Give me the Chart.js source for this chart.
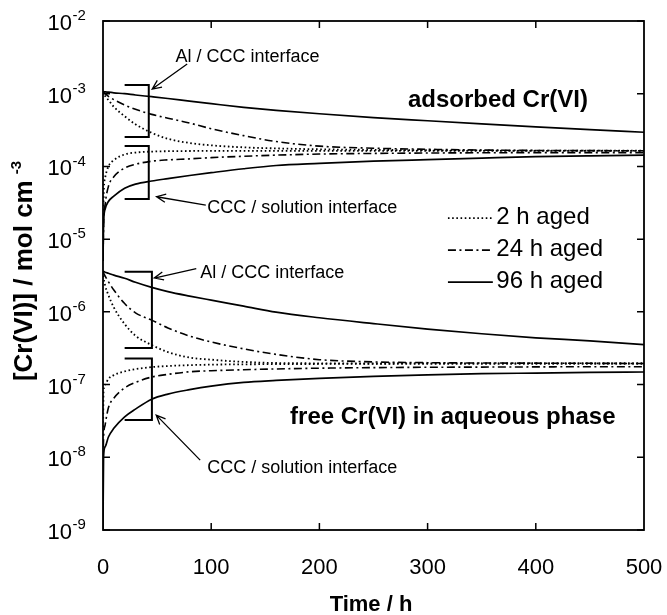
<!DOCTYPE html>
<html><head><meta charset="utf-8">
<script src="https://cdn.jsdelivr.net/npm/chart.js@4/dist/chart.umd.min.js"></script>
<style>html,body{margin:0;padding:0;background:#fff;}canvas{display:block;}</style>
</head><body>
<canvas id="c" width="667" height="615" style="width:667px;height:615px"></canvas>
<script>
// ---- data (time in h, concentration in mol cm^-3) ----
const times   = [0, 0.5, 2, 5, 10, 20, 30, 45, 60, 80, 100, 130, 160, 200, 250, 300, 350, 400, 450, 500];
// adsorbed Cr(VI), Al / CCC interface
const adsAl2  = [1.07e-3, 1.02e-3, 9.3e-4, 8.2e-4, 6.6e-4, 4.9e-4, 3.8e-4, 2.9e-4, 2.4e-4, 2.1e-4, 1.95e-4, 1.83e-4, 1.77e-4, 1.72e-4, 1.69e-4, 1.67e-4, 1.66e-4, 1.65e-4, 1.65e-4, 1.65e-4];
const adsAl24 = [1.07e-3, 1.05e-3, 1.0e-3, 9.2e-4, 8.3e-4, 7.0e-4, 6.1e-4, 5.2e-4, 4.6e-4, 3.95e-4, 3.3e-4, 2.65e-4, 2.2e-4, 1.9e-4, 1.78e-4, 1.72e-4, 1.68e-4, 1.66e-4, 1.65e-4, 1.64e-4];
const adsAl96 = [1.07e-3, 1.07e-3, 1.06e-3, 1.05e-3, 1.03e-3, 1.0e-3, 9.6e-4, 9.1e-4, 8.6e-4, 7.9e-4, 7.3e-4, 6.5e-4, 5.9e-4, 5.3e-4, 4.7e-4, 4.25e-4, 3.85e-4, 3.5e-4, 3.2e-4, 2.95e-4];
// adsorbed Cr(VI), CCC / solution interface
const adsCs2  = [5e-6, 3.5e-5, 7e-5, 1.0e-4, 1.22e-4, 1.46e-4, 1.55e-4, 1.6e-4, 1.62e-4, 1.63e-4, 1.64e-4, 1.64e-4, 1.64e-4, 1.64e-4, 1.64e-4, 1.64e-4, 1.64e-4, 1.64e-4, 1.64e-4, 1.64e-4];
const adsCs24 = [5e-6, 1.5e-5, 3.0e-5, 5.3e-5, 7.2e-5, 9.5e-5, 1.07e-4, 1.18e-4, 1.23e-4, 1.27e-4, 1.32e-4, 1.38e-4, 1.43e-4, 1.48e-4, 1.51e-4, 1.53e-4, 1.54e-4, 1.55e-4, 1.55e-4, 1.55e-4];
const adsCs96 = [5e-6, 1.6e-5, 2.6e-5, 3.3e-5, 3.9e-5, 5.0e-5, 5.7e-5, 6.3e-5, 6.8e-5, 7.5e-5, 8.2e-5, 9.3e-5, 1.03e-4, 1.1e-4, 1.18e-4, 1.24e-4, 1.3e-4, 1.36e-4, 1.4e-4, 1.43e-4];
// free Cr(VI) in aqueous phase, Al / CCC interface
const freeAl2  = [3.6e-6, 3.0e-6, 2.3e-6, 1.7e-6, 1.15e-6, 6.8e-7, 4.7e-7, 3.5e-7, 2.8e-7, 2.35e-7, 2.2e-7, 2.05e-7, 1.98e-7, 1.96e-7, 1.95e-7, 1.95e-7, 1.95e-7, 1.95e-7, 1.95e-7, 1.95e-7];
const freeAl24 = [3.6e-6, 3.45e-6, 3.1e-6, 2.6e-6, 2.0e-6, 1.3e-6, 9.7e-7, 7.7e-7, 6.0e-7, 4.65e-7, 3.85e-7, 3.1e-7, 2.6e-7, 2.2e-7, 2.05e-7, 2.0e-7, 1.98e-7, 1.97e-7, 1.96e-7, 1.95e-7];
const freeAl96 = [3.6e-6, 3.6e-6, 3.5e-6, 3.4e-6, 3.2e-6, 2.9e-6, 2.55e-6, 2.17e-6, 1.9e-6, 1.65e-6, 1.45e-6, 1.2e-6, 9.9e-7, 8.3e-7, 6.9e-7, 5.8e-7, 5.0e-7, 4.4e-7, 4.0e-7, 3.55e-7];
// free Cr(VI) in aqueous phase, CCC / solution interface
const freeCs2  = [2e-8, 8e-8, 1.0e-7, 1.2e-7, 1.35e-7, 1.52e-7, 1.63e-7, 1.74e-7, 1.8e-7, 1.85e-7, 1.88e-7, 1.9e-7, 1.91e-7, 1.92e-7, 1.93e-7, 1.94e-7, 1.94e-7, 1.95e-7, 1.95e-7, 1.95e-7];
const freeCs24 = [8e-9, 1.8e-8, 2.8e-8, 4.8e-8, 6.5e-8, 9.0e-8, 1.07e-7, 1.27e-7, 1.38e-7, 1.5e-7, 1.55e-7, 1.6e-7, 1.64e-7, 1.68e-7, 1.71e-7, 1.73e-7, 1.74e-7, 1.75e-7, 1.76e-7, 1.76e-7];
const freeCs96 = [1e-9, 1e-8, 1.4e-8, 1.9e-8, 2.5e-8, 3.6e-8, 4.6e-8, 6.3e-8, 7.4e-8, 8.5e-8, 9.5e-8, 1.07e-7, 1.14e-7, 1.22e-7, 1.3e-7, 1.36e-7, 1.41e-7, 1.44e-7, 1.47e-7, 1.49e-7];

const xTicks = [0, 100, 200, 300, 400, 500];
const yExponents = [-9, -8, -7, -6, -5, -4, -3, -2];
const seriesNames = ['2 h aged', '24 h aged', '96 h aged'];

// ---- styles ----
const FONT = '"Liberation Sans", Arial, Helvetica, sans-serif';
const styles = {
  dot:     {borderDash: [1.6, 2.6], borderWidth: 1.8},
  dashdot: {borderDash: [8, 3.5, 2, 3.5], borderWidth: 1.6},
  solid:   {borderDash: [], borderWidth: 1.7}
};
const legendStyles = ['dot', 'dashdot', 'solid'];
const curves = [
  [adsAl2, 'dot'], [adsCs2, 'dot'], [adsAl24, 'dashdot'], [adsCs24, 'dashdot'], [adsAl96, 'solid'], [adsCs96, 'solid'],
  [freeAl2, 'dot'], [freeCs2, 'dot'], [freeAl24, 'dashdot'], [freeCs24, 'dashdot'], [freeAl96, 'solid'], [freeCs96, 'solid']
];
const datasets = curves.map(([vals, st]) => Object.assign({
  data: times.map((t, i) => ({x: t, y: vals[i]})),
  borderColor: '#000', backgroundColor: '#000', pointRadius: 0, fill: false,
  cubicInterpolationMode: 'monotone', borderCapStyle: 'butt'
}, styles[st]));

// annotations in data coordinates (time, concentration)
const brackets = [
  {t0: 20, t1: 42.3, top: 1.32e-3, bottom: 2.54e-4},
  {t0: 20, t1: 42.3, top: 1.91e-4, bottom: 3.56e-5},
  {t0: 20, t1: 45.2, top: 3.56e-6, bottom: 3.18e-7},
  {t0: 20, t1: 45.2, top: 2.28e-7, bottom: 3.25e-8}
];
const arrows = [
  {from: [77.8, 2.56e-3], to: [45.5, 1.16e-3]},
  {from: [95, 2.94e-5], to: [49.5, 3.83e-5]},
  {from: [86.2, 3.94e-6], to: [47.4, 2.92e-6]},
  {from: [89.8, 9.15e-9], to: [49.2, 3.8e-8]}
];
const notes = [
  {text: 'Al / CCC interface', t: 66.9, v: 3.2e-3, font: '18px ' + FONT},
  {text: 'CCC / solution interface', t: 96.3, v: 2.68e-5, font: '18px ' + FONT},
  {text: 'Al / CCC interface', t: 89.8, v: 3.42e-6, font: '18px ' + FONT},
  {text: 'CCC / solution interface', t: 96.3, v: 7.1e-9, font: '18px ' + FONT},
  {text: 'adsorbed Cr(VI)', t: 281.8, v: 8.2e-4, font: 'bold 24px ' + FONT},
  {text: 'free Cr(VI) in aqueous phase', t: 172.9, v: 3.57e-8, font: 'bold 24px ' + FONT}
];
const legendPos = {t0: 318.8, t1: 360.3, tText: 363.5, v: [2.01e-5, 7.3e-6, 2.65e-6]};

const decor = {
  id: 'decor',
  afterDraw(chart) {
    const ctx = chart.ctx, xs = chart.scales.x, ys = chart.scales.y, a = chart.chartArea;
    const X = t => xs.getPixelForValue(t), Y = v => ys.getPixelForValue(v);
    ctx.save();
    ctx.strokeStyle = '#000'; ctx.fillStyle = '#000';
    // frame
    ctx.lineWidth = 1.8;
    ctx.strokeRect(a.left, a.top, a.right - a.left, a.bottom - a.top);
    // inward ticks
    ctx.lineWidth = 1.5;
    ctx.beginPath();
    xTicks.forEach(t => {
      if (t === xs.min || t === xs.max) return;
      const x = X(t);
      ctx.moveTo(x, a.bottom); ctx.lineTo(x, a.bottom - 7);
      ctx.moveTo(x, a.top); ctx.lineTo(x, a.top + 7);
    });
    yExponents.forEach(e => {
      const y = Y(Math.pow(10, e));
      ctx.moveTo(a.left, y); ctx.lineTo(a.left + 7, y);
      ctx.moveTo(a.right, y); ctx.lineTo(a.right - 7, y);
    });
    ctx.stroke();
    // y tick labels with superscripts
    yExponents.forEach(e => {
      const y = Y(Math.pow(10, e));
      ctx.font = '22px ' + FONT; ctx.textAlign = 'right'; ctx.textBaseline = 'middle';
      ctx.fillText('10', 72, y + 3);
      ctx.font = '15px ' + FONT; ctx.textAlign = 'left';
      ctx.fillText('-' + Math.abs(e), 72.5, y - 5);
    });
    // y title (rotated)
    ctx.save();
    const main = '[Cr(VI)] / mol cm', sup = '-3';
    ctx.font = 'bold 26px ' + FONT;
    const w1 = ctx.measureText(main).width;
    ctx.font = 'bold 15px ' + FONT;
    const w2 = ctx.measureText(sup).width;
    const total = w1 + 6 + w2;
    ctx.translate(32, 271 + total / 2);
    ctx.rotate(-Math.PI / 2);
    ctx.textAlign = 'left'; ctx.textBaseline = 'alphabetic';
    ctx.font = 'bold 26px ' + FONT;
    ctx.fillText(main, 0, 0);
    ctx.font = 'bold 15px ' + FONT;
    ctx.fillText(sup, w1 + 6, -11);
    ctx.restore();
    // x title
    ctx.font = 'bold 22px ' + FONT; ctx.textAlign = 'center'; ctx.textBaseline = 'alphabetic';
    ctx.fillText('Time / h', 371, 611);
    // brackets
    ctx.lineWidth = 2;
    brackets.forEach(b => {
      ctx.beginPath();
      ctx.moveTo(X(b.t0), Y(b.top)); ctx.lineTo(X(b.t1), Y(b.top));
      ctx.lineTo(X(b.t1), Y(b.bottom)); ctx.lineTo(X(b.t0), Y(b.bottom));
      ctx.stroke();
    });
    // arrows
    ctx.lineWidth = 1.3;
    arrows.forEach(ar => {
      const x0 = X(ar.from[0]), y0 = Y(ar.from[1]), x1 = X(ar.to[0]), y1 = Y(ar.to[1]);
      const ang = Math.atan2(y1 - y0, x1 - x0), L = 10, sp = 0.42;
      ctx.beginPath();
      ctx.moveTo(x0, y0); ctx.lineTo(x1, y1);
      ctx.moveTo(x1 - L * Math.cos(ang - sp), y1 - L * Math.sin(ang - sp));
      ctx.lineTo(x1, y1);
      ctx.lineTo(x1 - L * Math.cos(ang + sp), y1 - L * Math.sin(ang + sp));
      ctx.stroke();
    });
    // text notes
    ctx.textAlign = 'left'; ctx.textBaseline = 'middle';
    notes.forEach(n => { ctx.font = n.font; ctx.fillText(n.text, X(n.t), Y(n.v)); });
    // legend
    seriesNames.forEach((name, i) => {
      const st = styles[legendStyles[i]];
      const y = Y(legendPos.v[i]);
      ctx.save();
      ctx.lineWidth = st.borderWidth; ctx.setLineDash(st.borderDash);
      ctx.beginPath(); ctx.moveTo(X(legendPos.t0), y + 1); ctx.lineTo(X(legendPos.t1), y + 1); ctx.stroke();
      ctx.restore();
      ctx.font = '24px ' + FONT; ctx.textAlign = 'left'; ctx.textBaseline = 'middle';
      ctx.fillText(name, X(legendPos.tText), y);
    });
    ctx.restore();
  }
};

new Chart(document.getElementById('c'), {
  type: 'line',
  data: {datasets},
  options: {
    responsive: false, animation: false, devicePixelRatio: 1,
    layout: {padding: {left: 0, right: 23, top: 21, bottom: 0}},
    plugins: {legend: {display: false}, tooltip: {enabled: false}},
    elements: {line: {tension: 0}},
    scales: {
      x: {
        type: 'linear', min: 0, max: 500,
        afterBuildTicks: s => { s.ticks = xTicks.map(v => ({value: v})); },
        afterFit: s => { s.height = 85; s.paddingLeft = 0; s.paddingRight = 0; },
        grid: {display: false, drawTicks: false}, border: {display: false},
        ticks: {color: '#000', font: {family: FONT, size: 22}, padding: 25, maxRotation: 0,
                callback: v => String(v)}
      },
      y: {
        type: 'logarithmic', min: 1e-9, max: 1e-2,
        afterFit: s => { s.width = 103; s.paddingTop = 0; s.paddingBottom = 0; },
        grid: {display: false, drawTicks: false}, border: {display: false},
        ticks: {display: false}
      }
    }
  },
  plugins: [decor]
});
</script>
</body></html>
